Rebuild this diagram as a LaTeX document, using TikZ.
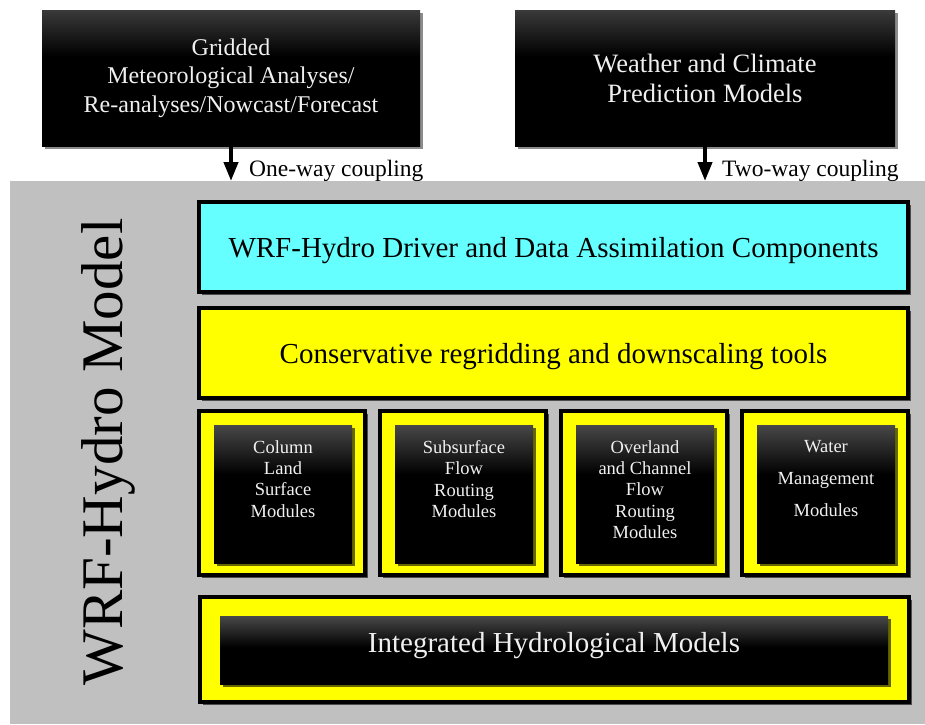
\documentclass[tikz,border=0pt]{standalone}
\usepackage{fontspec}
\setmainfont{Liberation Serif}
\usetikzlibrary{arrows.meta,shadows}
\definecolor{bggray}{RGB}{192,192,192}
\definecolor{cyanfill}{RGB}{102,255,255}
\definecolor{yelfill}{RGB}{255,255,0}
\definecolor{gtopA}{RGB}{58,58,58}
\definecolor{gtopB}{RGB}{72,72,72}
\definecolor{txtwhite}{RGB}{240,240,240}
\pgfdeclareverticalshading{topgrad}{100bp}{color(0bp)=(black); color(58bp)=(black); color(75bp)=(gtopA); color(100bp)=(gtopA)}
\pgfdeclareverticalshading{modgrad}{100bp}{color(0bp)=(black); color(57bp)=(black); color(75bp)=(gtopB); color(100bp)=(gtopB)}
\pgfdeclareverticalshading{hydgrad}{100bp}{color(0bp)=(black); color(52bp)=(black); color(75bp)=(gtopB); color(100bp)=(gtopB)}
\begin{document}
\begin{tikzpicture}[x=1pt,y=-1pt,
  shad/.style={drop shadow={shadow xshift=3pt,shadow yshift=-3pt,opacity=0.6,fill=black}},
  lightshad/.style={drop shadow={shadow xshift=3pt,shadow yshift=-3pt,opacity=0.45,fill=black}},
  bgbox/.style={rectangle,fill=bggray,draw=none,inner sep=0pt,outer sep=0pt},
  topbox/.style={rectangle,shade,shading=topgrad,draw=none,inner sep=0pt,outer sep=0pt,lightshad,text=txtwhite,align=center},
  bandbox/.style={rectangle,draw=black,line width=4pt,inner sep=0pt,outer sep=0pt,shad,
    minimum width=709pt,minimum height=90pt,text height=20pt,text depth=0pt,
    font=\fontsize{29}{32}\selectfont},
  modbox/.style={rectangle,draw=black,fill=yelfill,line width=4pt,inner sep=0pt,outer sep=0pt,shad,
    minimum width=166pt,minimum height=164pt},
  innerbox/.style={rectangle,shade,shading=modgrad,draw=none,inner sep=0pt,outer sep=0pt,shad,
    minimum width=138pt,minimum height=138pt,text=txtwhite},
  modtxt/.style={anchor=north,inner sep=0pt,outer sep=0pt,align=center,text=txtwhite,
    font=\fontsize{18.5}{21.3}\selectfont},
  lbl/.style={anchor=base west,inner sep=0pt,font=\fontsize{23.5}{26}\selectfont},
  arr/.style={line width=4pt,-{Triangle[width=14pt,length=19pt]}}
]
\useasboundingbox (0,0) rectangle (925,724);

% grey model background
\node[bgbox,minimum width=915pt,minimum height=543pt,anchor=north west] (bg) at (10,181) {};

% top input boxes
\node[topbox,minimum width=378pt,minimum height=136pt,font=\fontsize{24}{28.5}\selectfont] (tl) at (231,78)
  {Gridded\\Meteorological Analyses/\\Re-analyses/Nowcast/Forecast};
\node[topbox,minimum width=380pt,minimum height=136pt,font=\fontsize{26.5}{30}\selectfont] (tr) at (705,78)
  {Weather and Climate\\Prediction Models};

% couplings
\draw[arr] (tl.south) -- (tl.south |- bg.north);
\draw[arr] (tr.south) -- (tr.south |- bg.north);
\node[lbl] (l1) at (249,176) {One-way coupling};
\node[lbl] (l2) at (722,176) {Two-way coupling};

% vertical title
\node[rotate=90,inner sep=0pt,font=\fontsize{59}{62}\selectfont] (title) at (108.5,452) {WRF-Hydro Model};

% bands
\node[bandbox,fill=cyanfill] (drv) at (553.5,247) {WRF-Hydro Driver and Data Assimilation Components};
\node[bandbox,fill=yelfill] (rgd) at (553.5,353) {Conservative regridding and downscaling tools};

% module boxes
\node[modbox] (m1) at (282,493) {};
\node[modbox] (m2) at (463,493) {};
\node[modbox] (m3) at (644,493) {};
\node[modbox] (m4) at (825,493) {};
\node[innerbox] (i1) at (283,494) {};
\node[innerbox] (i2) at (464,494) {};
\node[innerbox] (i3) at (645,494) {};
\node[innerbox] (i4) at (826,494) {};
\node[modtxt] (t1) at (283,440.5) {Column\\Land\\Surface\\Modules};
\node[modtxt] (t2) at (464,440.5) {Subsurface\\Flow\\Routing\\Modules};
\node[modtxt] (t3) at (645,440.5) {Overland\\and Channel\\Flow\\Routing\\Modules};
\node[modtxt,font=\fontsize{18.5}{32}\selectfont] (t4) at (826,440.5) {Water\\Management\\Modules};

% integrated models
\node[modbox,minimum width=709pt,minimum height=105pt] (hb) at (554.5,649.5) {};
\node[innerbox,shading=hydgrad,minimum width=668pt,minimum height=68pt,text height=14pt,text depth=10pt,
  font=\fontsize{29}{32}\selectfont] (hi) at (554,650) {Integrated Hydrological Models};
\end{tikzpicture}
\end{document}
